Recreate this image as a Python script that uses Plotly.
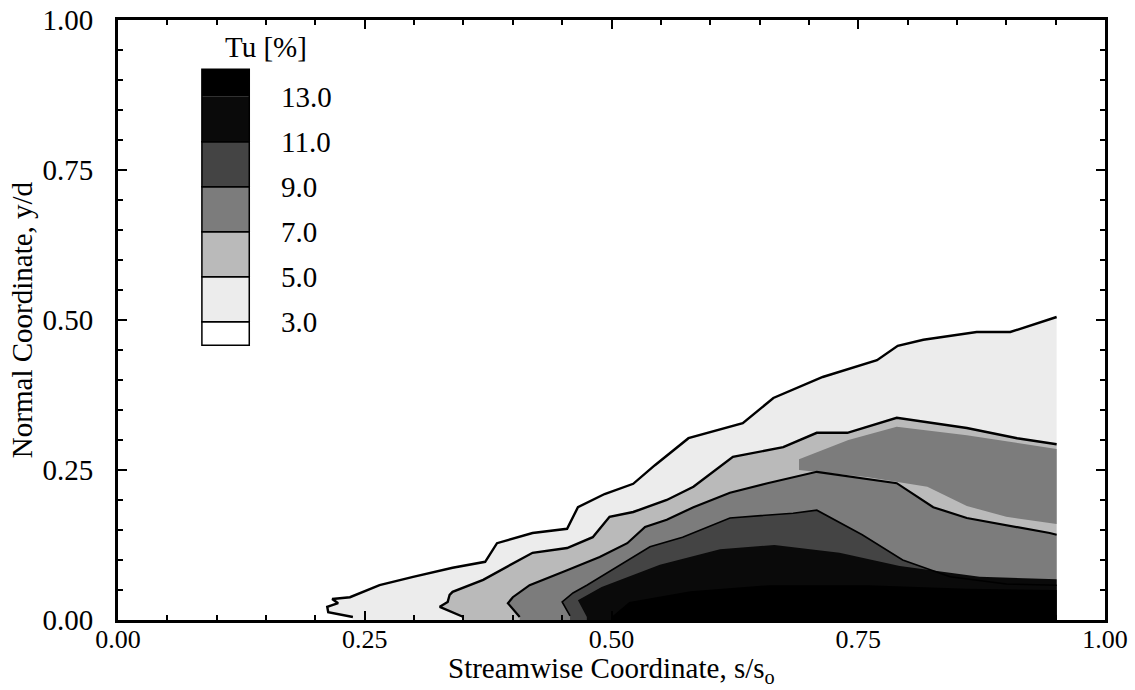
import plotly.graph_objects as go

# ---- data: contour lines of turbulence intensity Tu [%] ----
levels = [3.0, 5.0, 7.0, 9.0, 11.0, 13.0]

x3 = [0.238, 0.213, 0.212, 0.223, 0.217, 0.235, 0.265, 0.299, 0.339, 0.372, 0.384, 0.420, 0.455,
      0.466, 0.493, 0.522, 0.544, 0.578, 0.633, 0.664, 0.714, 0.769, 0.790, 0.816, 0.870, 0.904, 0.951]
y3 = [0.005, 0.013, 0.022, 0.028, 0.035, 0.038, 0.058, 0.072, 0.087, 0.097, 0.128, 0.145, 0.152,
      0.188, 0.210, 0.227, 0.258, 0.303, 0.328, 0.370, 0.405, 0.433, 0.457, 0.467, 0.480, 0.480, 0.505]

x5 = [0.350, 0.326, 0.334, 0.336, 0.339, 0.370, 0.420, 0.455, 0.481, 0.498, 0.522, 0.556, 0.583,
      0.623, 0.674, 0.708, 0.739, 0.789, 0.860, 0.911, 0.951]
y5 = [0.005, 0.022, 0.030, 0.042, 0.047, 0.067, 0.112, 0.120, 0.138, 0.172, 0.180, 0.200, 0.222,
      0.272, 0.288, 0.312, 0.312, 0.337, 0.320, 0.303, 0.293]

x7 = [0.407, 0.399, 0.395, 0.400, 0.417, 0.455, 0.488, 0.516, 0.534, 0.556, 0.583, 0.620, 0.658,
      0.708, 0.749, 0.789, 0.826, 0.860, 0.944, 0.951]
y7 = [0.005, 0.020, 0.028, 0.038, 0.058, 0.083, 0.105, 0.128, 0.155, 0.167, 0.188, 0.212, 0.228,
      0.247, 0.237, 0.228, 0.188, 0.170, 0.145, 0.142]

# closed 7 % island on the right, between the 5 % and 7 % lines
x7_island = [0.690, 0.740, 0.789, 0.860, 0.951, 0.951, 0.900, 0.860, 0.820, 0.760, 0.690]
y7_island = [0.268, 0.300, 0.322, 0.308, 0.285, 0.160, 0.172, 0.190, 0.222, 0.238, 0.250]

x9 = [0.458, 0.450, 0.461, 0.475, 0.539, 0.572, 0.620, 0.684, 0.708, 0.754, 0.795, 0.843, 0.900, 0.951]
y9 = [0.007, 0.030, 0.045, 0.058, 0.122, 0.138, 0.170, 0.178, 0.183, 0.142, 0.100, 0.072, 0.060, 0.058]

x11 = [0.475, 0.466, 0.490, 0.549, 0.610, 0.665, 0.731, 0.792, 0.873, 0.951]
y11 = [0.005, 0.033, 0.055, 0.092, 0.118, 0.125, 0.112, 0.090, 0.072, 0.068]

x13 = [0.500, 0.518, 0.580, 0.660, 0.760, 0.860, 0.951]
y13 = [0.005, 0.030, 0.048, 0.058, 0.058, 0.052, 0.050]

contour_x = [x3, x5, x7, x9, x11, x13]
contour_y = [y3, y5, y7, y9, y11, y13]

# band colours: <3, 3-5, 5-7, 7-9, 9-11, 11-13, >13
band_colors = ["#ffffff", "#ececec", "#bababa", "#7c7c7c", "#444444", "#0a0a0a", "#000000"]
line_widths = [2.4, 2.4, 2.2, 1.6, 0, 0]

tick_vals = [0.0, 0.25, 0.50, 0.75, 1.00]
tick_text = ["0.00", "0.25", "0.50", "0.75", "1.00"]

FONT = "Liberation Serif"

fig = go.Figure()

def add_region(xs, ys, color):
    px = list(xs) + [xs[-1], xs[0], xs[0]]
    py = list(ys) + [0.0, 0.0, ys[0]]
    fig.add_trace(go.Scatter(x=px, y=py, mode="lines", fill="toself", fillcolor=color,
                             line=dict(width=0), hoverinfo="skip", showlegend=False))

# filled regions (outer first)
for i, (xs, ys) in enumerate(zip(contour_x, contour_y)):
    add_region(xs, ys, band_colors[i + 1])
    if levels[i] == 5.0:
        fig.add_trace(go.Scatter(x=x7_island, y=y7_island, mode="lines", fill="toself",
                                 fillcolor=band_colors[3], line=dict(width=0),
                                 hoverinfo="skip", showlegend=False))

# contour lines
for i, (xs, ys) in enumerate(zip(contour_x, contour_y)):
    if line_widths[i] > 0:
        fig.add_trace(go.Scatter(x=xs, y=ys, mode="lines",
                                 line=dict(color="black", width=line_widths[i]),
                                 hoverinfo="skip", showlegend=False))

# ---- legend (colour key) ----
key_x0, key_x1 = 0.085, 0.133
key_bottom, key_first, key_step, key_top = 0.458, 0.497, 0.075, 0.918
bounds = [key_bottom] + [key_first + k * key_step for k in range(len(levels))] + [key_top]
for b in range(len(band_colors)):
    y0, y1 = bounds[b], bounds[b + 1]
    outlined = b < len(band_colors) - 2
    fig.add_shape(type="rect", xref="x", yref="y", x0=key_x0, x1=key_x1, y0=y0, y1=y1,
                  fillcolor=band_colors[b],
                  line=dict(color="black", width=1.5 if outlined else 0), layer="above")
fig.add_shape(type="rect", xref="x", yref="y", x0=key_x0, x1=key_x1, y0=bounds[-3], y1=key_top,
              fillcolor="rgba(0,0,0,0)", line=dict(color="black", width=1.5), layer="above")
for k, lv in enumerate(levels):
    fig.add_annotation(x=0.163, y=bounds[k + 1], xref="x", yref="y", text=f"{lv:.1f}",
                       showarrow=False, xanchor="left", yanchor="middle",
                       font=dict(family=FONT, size=29, color="black"))
fig.add_annotation(x=0.150, y=0.955, xref="x", yref="y", text="Tu [%]", showarrow=False,
                   xanchor="center", yanchor="middle",
                   font=dict(family=FONT, size=29, color="black"))

# x-axis title placed as an annotation close under the tick labels (as in the original)
fig.add_annotation(x=0.5, y=-0.083, xref="paper", yref="paper",
                   text="Streamwise Coordinate, s/s<sub>o</sub>", showarrow=False,
                   xanchor="center", yanchor="middle",
                   font=dict(family=FONT, size=29, color="black"))

axis_common = dict(
    range=[0, 1], tickvals=tick_vals, ticktext=tick_text, ticks="inside", ticklen=9,
    tickwidth=2, tickcolor="black", mirror="ticks", showline=True, linewidth=3,
    linecolor="black", showgrid=False, zeroline=False, automargin=False,
    minor=dict(tick0=0, dtick=0.05, ticks="inside", ticklen=5, tickwidth=1.5, tickcolor="black"),
)

fig.update_layout(
    width=1135, height=690,
    margin=dict(l=118, r=30, t=20, b=70),
    paper_bgcolor="white", plot_bgcolor="white",
    xaxis=dict(**axis_common, ticklabelstandoff=-6,
               tickfont=dict(family=FONT, size=26, color="black")),
    yaxis=dict(**axis_common, ticklabelstandoff=16,
               tickfont=dict(family=FONT, size=29, color="black"),
               title=dict(text="Normal Coordinate, y/d", standoff=2,
                          font=dict(family=FONT, size=29, color="black"))),
)

fig.write_html("out.html")
